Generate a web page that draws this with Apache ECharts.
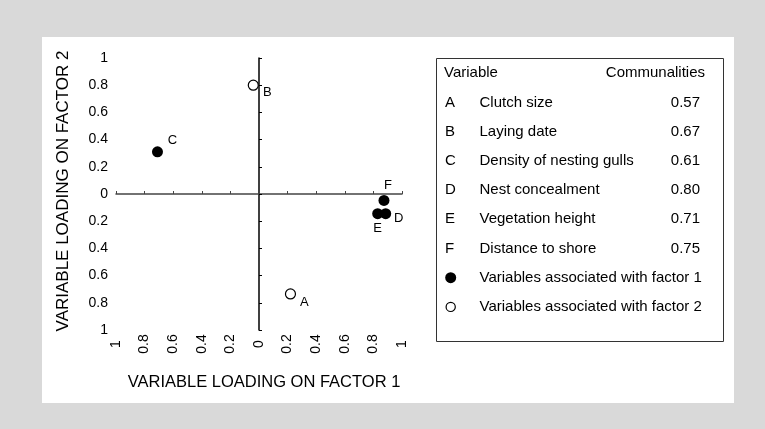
<!DOCTYPE html>
<html>
<head>
<meta charset="utf-8">
<script src="https://cdn.jsdelivr.net/npm/echarts@6/dist/echarts.min.js"></script>
<style>
html,body{margin:0;padding:0;background:#d9d9d9;}
#chart{width:765px;height:429px;}
</style>
</head>
<body>
<div id="chart"></div>
<script>
// ---- data ----
const letters = ['A', 'B', 'C', 'D', 'E', 'F'];
const variableNames = ['Clutch size', 'Laying date', 'Density of nesting gulls', 'Nest concealment', 'Vegetation height', 'Distance to shore'];
const communalities = ['0.57', '0.67', '0.61', '0.80', '0.71', '0.75'];
const factor1Loading = [0.22, -0.04, -0.71, 0.886, 0.83, 0.874];
const factor2Loading = [-0.735, 0.80, 0.31, -0.145, -0.145, -0.047];
const associatedFactor = [2, 2, 1, 1, 1, 1];
const legendTexts = ['Variables associated with factor 1', 'Variables associated with factor 2'];
const xTitle = 'VARIABLE LOADING ON FACTOR 1';
const yTitle = 'VARIABLE LOADING ON FACTOR 2';
const tableHeader = ['Variable', 'Communalities'];

// ---- style ----
const FONT = 'Liberation Sans, Arial, Helvetica, sans-serif';
const labelOffsets = { A: [14, 8], B: [14, 7], C: [15, -11], D: [13, 5], E: [0, 15], F: [4, -15] };

const chart = echarts.init(document.getElementById('chart'));

const points = letters.map((l, i) => {
  const filled = associatedFactor[i] === 1;
  return {
    name: l,
    value: [factor1Loading[i], factor2Loading[i]],
    symbolSize: filled ? 11 : 10,
    itemStyle: filled ? { color: '#000', borderWidth: 0, opacity: 1 } : { color: '#fff', borderColor: '#000', borderWidth: 1.2, opacity: 1 },
    label: { show: true, position: 'inside', offset: labelOffsets[l], formatter: l, color: '#000', fontSize: 13, fontFamily: FONT }
  };
});

const absFmt = v => String(Math.abs(Math.round(v * 10) / 10));

const graphics = [];
graphics.push({ type: 'rect', z: -100, shape: { x: 42, y: 37, width: 692, height: 366 }, style: { fill: '#fff' }, silent: true });
graphics.push({ type: 'text', x: 264, y: 382, style: { text: xTitle, font: '16.5px ' + FONT, fill: '#000', textAlign: 'center', textVerticalAlign: 'middle' } });
graphics.push({ type: 'text', x: 63.5, y: 191, rotation: Math.PI / 2, style: { text: yTitle, font: '17px ' + FONT, fill: '#000', textAlign: 'center', textVerticalAlign: 'middle' } });
// table box
graphics.push({ type: 'rect', shape: { x: 436.5, y: 58.5, width: 287, height: 283 }, style: { fill: 'none', stroke: '#333', lineWidth: 1 } });
const rowY0 = 73.3, rowH = 29.2;
graphics.push({ type: 'text', x: 444, y: rowY0, style: { text: tableHeader[0], font: '15px ' + FONT, fill: '#000', textVerticalAlign: 'middle' } });
graphics.push({ type: 'text', x: 705, y: rowY0, style: { text: tableHeader[1], font: '15px ' + FONT, fill: '#000', textAlign: 'right', textVerticalAlign: 'middle' } });
letters.forEach((l, i) => {
  const y = rowY0 + rowH * (i + 1);
  graphics.push({ type: 'text', x: 445, y: y, style: { text: l, font: '15px ' + FONT, fill: '#000', textVerticalAlign: 'middle' } });
  graphics.push({ type: 'text', x: 479.5, y: y, style: { text: variableNames[i], font: '15px ' + FONT, fill: '#000', textVerticalAlign: 'middle' } });
  graphics.push({ type: 'text', x: 700, y: y, style: { text: communalities[i], font: '15px ' + FONT, fill: '#000', textAlign: 'right', textVerticalAlign: 'middle' } });
});
legendTexts.forEach((t, j) => {
  const y = rowY0 + rowH * (letters.length + 1 + j);
  graphics.push({ type: 'circle', shape: { cx: 450.7, cy: y, r: j === 0 ? 5.5 : 4.6 }, style: j === 0 ? { fill: '#000' } : { fill: '#fff', stroke: '#000', lineWidth: 1.2 } });
  graphics.push({ type: 'text', x: 479.5, y: y, style: { text: t, font: '15px ' + FONT, fill: '#000', textVerticalAlign: 'middle' } });
});

const option = {
  backgroundColor: '#d9d9d9',
  animation: false,
  grid: { left: 116, right: 363, top: 58, bottom: 99, containLabel: false },
  xAxis: [
    {
      type: 'value', min: -1, max: 1, interval: 0.2,
      axisLine: { onZero: true, lineStyle: { color: '#444', width: 1.5 } },
      axisTick: { show: true, inside: true, length: 3, lineStyle: { color: '#444', width: 1 } },
      axisLabel: { show: false }, splitLine: { show: false }
    },
    {
      type: 'value', min: -1, max: 1, interval: 0.2, position: 'bottom',
      axisLine: { show: false, onZero: false }, axisTick: { show: false }, splitLine: { show: false },
      axisLabel: { show: true, rotate: 90, align: 'center', verticalAlign: 'middle', margin: 14, formatter: absFmt, color: '#000', fontSize: 14, fontFamily: FONT }
    }
  ],
  yAxis: [
    {
      type: 'value', min: -1, max: 1, interval: 0.2,
      axisLine: { onZero: true, lineStyle: { color: '#000', width: 1.5 } },
      axisTick: { show: true, inside: true, length: 3, lineStyle: { color: '#000', width: 1 } },
      axisLabel: { show: false }, splitLine: { show: false }
    },
    {
      type: 'value', min: -1, max: 1, interval: 0.2, position: 'left',
      axisLine: { show: false, onZero: false }, axisTick: { show: false }, splitLine: { show: false },
      axisLabel: { show: true, margin: 8, formatter: absFmt, color: '#000', fontSize: 14, fontFamily: FONT }
    }
  ],
  series: [{
    type: 'scatter', xAxisIndex: 0, yAxisIndex: 0, symbol: 'circle', z: 5,
    itemStyle: { opacity: 1 },
    data: points
  }],
  graphic: graphics
};
chart.setOption(option);
</script>
</body>
</html>
